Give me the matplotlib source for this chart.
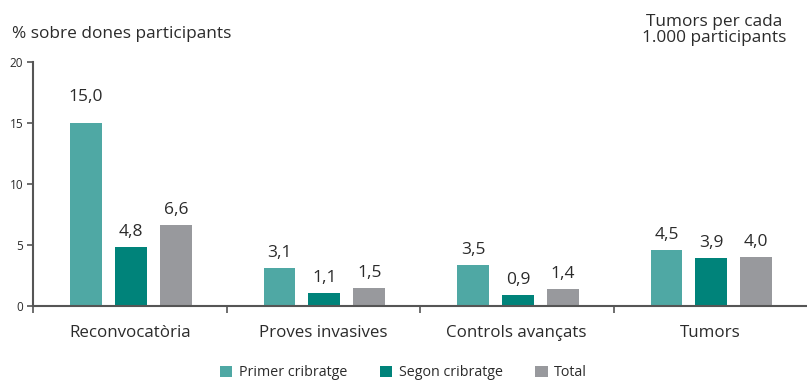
import matplotlib
matplotlib.use("Agg")
import matplotlib.pyplot as plt
from matplotlib.patches import Patch
import numpy as np

plt.rcParams["font.family"] = ["Open Sans", "DejaVu Sans"]

categories = ["Reconvocatòria", "Proves invasives", "Controls avançats", "Tumors"]
series_names = ["Primer cribratge", "Segon cribratge", "Total"]
primer = [15.0, 3.1, 3.4, 4.6]
segon = [4.8, 1.1, 0.9, 3.9]
total = [6.6, 1.5, 1.4, 4.0]
value_labels = [
    ["15,0", "3,1", "3,5", "4,5"],
    ["4,8", "1,1", "0,9", "3,9"],
    ["6,6", "1,5", "1,4", "4,0"],
]
y_ticks = [0, 5, 10, 15, 20]

COLORS = ["#4fa8a4", "#00837a", "#98999d"]
TEXT = "#2b2b2b"
AXIS = "#555555"

fig = plt.figure(figsize=(8.07, 3.82), dpi=100)
ax = fig.add_axes([33 / 807, 76 / 382, 774 / 807, 244 / 382])

x = np.arange(len(categories))
offsets = [-0.232, 0.0, 0.232]
width = 0.165
for i, vals in enumerate([primer, segon, total]):
    bars = ax.bar(x + offsets[i] + 0.006, vals, width=width, color=COLORS[i], zorder=2)
    for j, b in enumerate(bars):
        # the 15,0 label sits higher in the original
        extra = 18 if (i == 0 and j == 0) else 7
        ax.annotate(value_labels[i][j], (b.get_x() + b.get_width() / 2, b.get_height()),
                    xytext=(0, extra * 0.72), textcoords="offset points",
                    ha="center", va="bottom", fontsize=12.5, color=TEXT)

ax.set_xlim(-0.5, 3.5)
ax.set_ylim(0, 20)
ax.set_yticks(y_ticks)
ax.tick_params(axis="y", direction="out", length=4, width=1.2, color=AXIS,
               labelsize=8.5, labelcolor=TEXT, pad=3)

ax.set_xticks([-0.5, 0.5, 1.5, 2.5])
ax.set_xticklabels([])
ax.tick_params(axis="x", which="major", direction="out", length=5, width=1.2, color=AXIS)
ax.set_xticks(x, minor=True)
ax.set_xticklabels(categories, minor=True)
ax.tick_params(axis="x", which="minor", length=0, labelsize=12.2, labelcolor=TEXT, pad=14)

for side in ["top", "right"]:
    ax.spines[side].set_visible(False)
for side in ["left", "bottom"]:
    ax.spines[side].set_color(AXIS)
    ax.spines[side].set_linewidth(1.5)

fig.text(12 / 807, 1 - 34 / 382, "% sobre dones participants", fontsize=12.4,
         color=TEXT, ha="left", va="center")
fig.text(714 / 807, 1 - 30 / 382, "Tumors per cada\n1.000 participants", fontsize=12.4,
         color=TEXT, ha="center", va="center", linespacing=1.05)

handles = [Patch(facecolor=c, edgecolor="none") for c in COLORS]
fig.legend(handles, series_names, loc="center", bbox_to_anchor=(0.5, 9 / 382), ncol=3,
           frameon=False, fontsize=10.3, labelcolor=TEXT, handlelength=0.85, handleheight=0.85,
           handletextpad=0.45, columnspacing=2.3, borderaxespad=0)

fig.savefig("out.png", dpi=100)
